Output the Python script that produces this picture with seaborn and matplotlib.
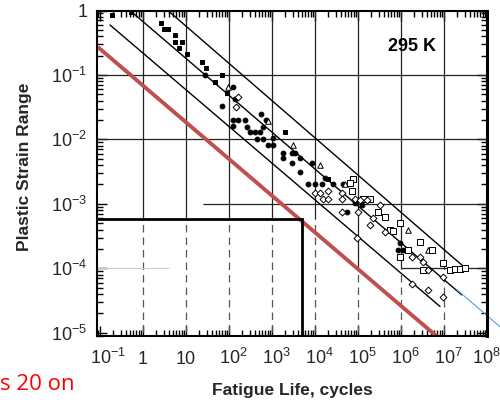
import numpy as np
import pandas as pd
import matplotlib
matplotlib.use('Agg')
import matplotlib.pyplot as plt
import matplotlib.ticker as mticker
from matplotlib.transforms import ScaledTranslation
import seaborn as sns

# --- data (fatigue life in cycles, plastic strain range) ---
# filled squares
fsq_N = [0.19, 0.53, 2.6, 3.1, 3.8, 5.5, 5.5, 8.1, 6.9, 10.5, 24, 29, 69, 47, 90, 2000, 2.0e4]
fsq_eps = [0.85, 0.95, 0.64, 0.52, 0.52, 0.42, 0.32, 0.32, 0.26, 0.21, 0.159, 0.128, 0.10,
           0.078, 0.053, 0.013, 2.4e-3]
# filled circles
fci_N = [28, 124, 138, 69, 124, 162, 236, 124, 555, 262,
         308, 402, 526, 617, 448, 617, 1055, 807, 1055, 725,
         1800, 2900, 3400, 4480, 1800, 2900, 4480, 8500, 6900, 1.0e4,
         1.45e4, 1.7e4, 2.6e4, 4.5e4, 8.5e4, 1.24e5, 5.5e4, 9.5e5, 8.5e5, 1.1e6]
fci_eps = [0.10, 0.065, 0.042, 0.033, 0.020, 0.020, 0.020, 0.016, 0.025, 0.0156,
           0.013, 0.013, 0.013, 0.0156, 0.0102, 0.0102, 0.0105, 0.0082, 0.0082, 0.020,
           0.0062, 0.0062, 0.0062, 0.0052, 0.0052, 0.0043, 0.0031, 0.0043, 0.0020, 0.0020,
           0.0020, 0.0025, 0.0020, 0.0020, 1.04e-3, 9.6e-4, 7.5e-4, 2.5e-4, 1.9e-4, 1.9e-4]
# open triangles
otr_N = [95, 807, 3080, 1.3e4, 5.0e4, 1.46e6, 4.2e6]
otr_eps = [0.065, 0.019, 0.0082, 0.0040, 0.0020, 4.0e-4, 1.9e-4]
# open squares
osq_N = [7.7e4, 6.5e4, 7.2e4, 1.3e5, 1.9e5, 2.9e5, 4.2e5, 5.5e5, 9.5e5, 6.5e5,
         1.46e6, 2.8e6, 9.5e5, 5.3e6, 3.3e6, 9.5e6, 1.4e7, 1.8e7, 2.4e7, 3.1e7]
osq_eps = [2.4e-3, 2.1e-3, 1.6e-3, 1.2e-3, 1.2e-3, 7.5e-4, 6.3e-4, 4.0e-4, 5.1e-4, 3.8e-4,
           1.9e-4, 2.6e-4, 1.5e-4, 1.9e-4, 9.5e-5, 1.2e-4, 9.5e-5, 9.8e-5, 9.8e-5, 1.0e-4]
# open diamonds
odi_N = [1.0e4, 1.3e4, 2.0e4, 1.5e4, 2.0e4, 4.2e4, 4.2e4, 8.5e4, 1.1e5, 1.6e5,
         4.2e4, 1.0e5, 3.3e5, 2.2e5, 1.9e5, 4.2e5, 1.8e6, 2.8e6, 3.3e6, 4.2e6,
         9.5e6, 1.8e6, 4.2e6, 9.5e6, 9.5e4, 146, 160]
odi_eps = [1.5e-3, 1.5e-3, 1.6e-3, 1.2e-3, 1.2e-3, 1.5e-3, 1.2e-3, 1.2e-3, 1.15e-3, 1.15e-3,
           7.5e-4, 7.5e-4, 9.6e-4, 6.1e-4, 4.7e-4, 3.7e-4, 1.5e-4, 1.5e-4, 1.26e-4, 9.5e-5,
           7.4e-5, 5.8e-5, 4.6e-5, 3.6e-5, 3.0e-4, 0.032, 0.045]

# band lines (two end points each)
lo_N, lo_eps = [0.171, 8.07e6], [0.596, 2.56e-5]
mid_N, mid_eps = [0.50, 2.58e7], [1.0, 3.88e-5]
hi_N, hi_eps = [3.8, 3.08e7], [1.0, 1.02e-4]
blue_N, blue_eps = [2.0e7, 2.6e8], [4.64e-5, 1.07e-5]
red_N, red_eps = [0.0897, 6.8e6], [0.27, 8.8e-6]
limit_N, limit_eps = 5.1e3, 5.8e-4

x_ticks = [10.0 ** k for k in range(-1, 9)]
x_tick_labels = ['$10^{-1}$', '1', '10', '$10^{2}$', '$10^{3}$', '$10^{4}$',
                 '$10^{5}$', '$10^{6}$', '$10^{7}$', '$10^{8}$']
y_ticks = [1.0, 1e-1, 1e-2, 1e-3, 1e-4, 1e-5]
y_tick_labels = ['1', '$10^{-1}$', '$10^{-2}$', '$10^{-3}$', '$10^{-4}$', '$10^{-5}$']

# --- style ---
sns.set_theme(style='white')
plt.rcParams.update({
    'font.family': ['Liberation Sans', 'DejaVu Sans'],
    'mathtext.fontset': 'custom',
    'mathtext.rm': 'Liberation Sans',
    'mathtext.it': 'Liberation Sans:italic',
    'mathtext.bf': 'Liberation Sans:bold',
    'axes.edgecolor': 'black',
    'text.color': 'black',
})

XMIN, XMAX = 10 ** -1.07, 1e8
YMIN, YMAX = 10 ** -5.05, 1.0

fig = plt.figure(figsize=(5, 4.04), dpi=100)
ax = fig.add_axes([0.194, 0.1683, 0.78, 0.8057])
ax.set_xscale('log')
ax.set_yscale('log')
ax.set_xlim(XMIN, XMAX)
ax.set_ylim(YMIN, YMAX)

# grid, partly erased in the lower part of the scan
grid_kw = dict(color='#222222', lw=0.9, zorder=1)
for k in range(0, 8):
    xd = 10.0 ** k
    cut = limit_eps if k <= 4 else 1e-4
    ax.vlines(xd, cut, YMAX, **grid_kw)
    ax.vlines(xd, YMIN * 1.15, cut, color='#555555', lw=0.9, ls=(0, (6, 4)), zorder=1)
ax.hlines([1e-1, 1e-2], XMIN, XMAX, **grid_kw)
ax.hlines(1e-3, 25, XMAX, **grid_kw)
ax.hlines(1e-4, 1e6, XMAX, **grid_kw)
ax.hlines(1e-4, XMIN, 10 ** 0.6, color='#cccccc', lw=0.8, zorder=1)

# band lines
for xs, ys in [(lo_N, lo_eps), (mid_N, mid_eps), (hi_N, hi_eps)]:
    sns.lineplot(x=xs, y=ys, ax=ax, color='black', lw=1.0, zorder=3)
sns.lineplot(x=blue_N, y=blue_eps, ax=ax, color='#5b9bd5', lw=0.8, zorder=3, clip_on=False)
sns.lineplot(x=red_N, y=red_eps, ax=ax, color='#c0504d', lw=2.8, zorder=5,
             solid_capstyle='butt')

# 20-year limit marker lines
ax.plot([XMIN, limit_N, limit_N], [limit_eps, limit_eps, YMIN], color='black', lw=2.0,
        zorder=6, solid_joinstyle='miter')

# data points
pts = [
    (fsq_N, fsq_eps, 's', 'black', 10),
    (fci_N, fci_eps, 'o', 'black', 12),
    (otr_N, otr_eps, '^', 'white', 16),
    (osq_N, osq_eps, 's', 'white', 16),
    (odi_N, odi_eps, 'D', 'white', 12),
]
for xs, ys, mk, fc, sz in pts:
    df = pd.DataFrame({'N': xs, 'eps': ys})
    sns.scatterplot(data=df, x='N', y='eps', ax=ax, marker=mk, s=sz, facecolor=fc,
                    edgecolor='black', linewidth=0.7, zorder=4)

# axes decoration
ax.set_xticks(x_ticks)
ax.set_xticklabels(x_tick_labels)
ax.set_yticks(y_ticks)
ax.set_yticklabels(y_tick_labels)
ax.xaxis.set_minor_locator(mticker.LogLocator(base=10, subs=np.arange(2, 10), numticks=30))
ax.yaxis.set_minor_locator(mticker.LogLocator(base=10, subs=np.arange(2, 10), numticks=30))
ax.xaxis.set_minor_formatter(mticker.NullFormatter())
ax.yaxis.set_minor_formatter(mticker.NullFormatter())
ax.tick_params(which='both', direction='in', top=True, right=True, bottom=True, left=True,
               color='black', width=1.0)
ax.tick_params(which='major', length=7, labelsize=13)
ax.tick_params(which='minor', length=4)
ax.tick_params(axis='x', which='major', pad=20.5)
ax.tick_params(axis='y', which='major', pad=7)

for lab, txt in zip(ax.get_xticklabels(), x_tick_labels):
    lab.set_va('baseline')
    if txt.startswith('$'):
        shift = -15 if txt == '$10^{8}$' else -10
        lab.set_ha('left')
        lab.set_transform(lab.get_transform() +
                          ScaledTranslation(shift / 100, 0, fig.dpi_scale_trans))

for side, sp in ax.spines.items():
    sp.set_color('black')
    sp.set_linewidth(1.5)
    sp.set_zorder(7)
ax.spines['right'].set_linewidth(2.2)

ax.set_xlabel('Fatigue Life, cycles', fontsize=12.5, fontweight='bold', va='center')
ax.xaxis.set_label_coords(0.5, -0.166)
ax.set_ylabel('Plastic Strain Range', fontsize=12.5, fontweight='bold', va='center')
ax.yaxis.set_label_coords(-0.185, 0.519)

ax.text(0.808, 0.888, '295 K', transform=ax.transAxes, ha='center', va='center',
        fontsize=13, fontweight='bold')

fig.text(0.0, 1 - 390 / 404, 's 20 on', color='#ff0000', fontsize=16, ha='left',
         va='baseline', family=['Open Sans', 'DejaVu Sans'])

fig.savefig('out.png', dpi=100)
